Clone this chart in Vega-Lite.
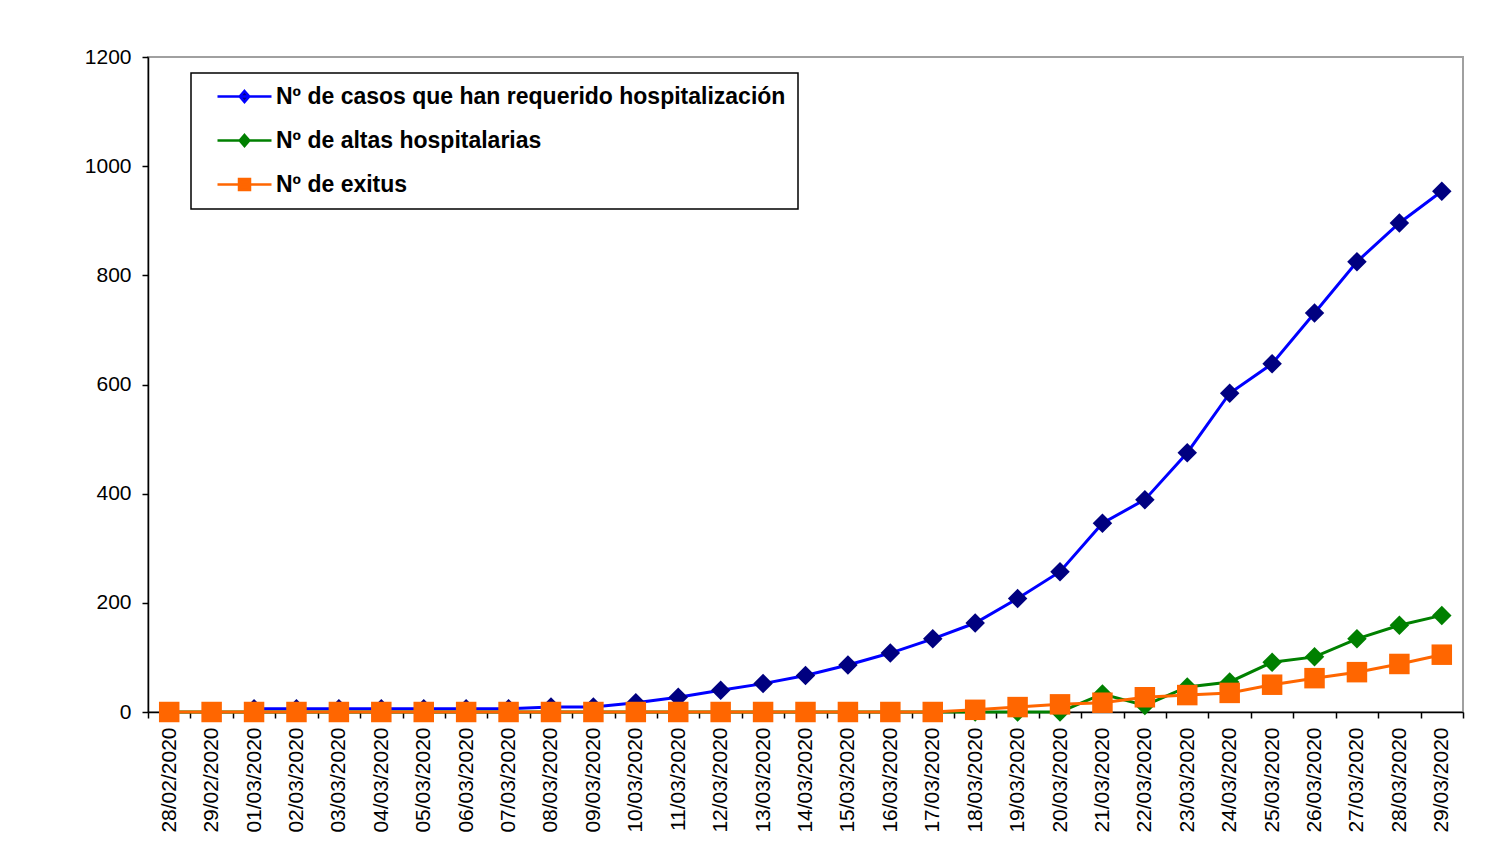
{
  "$schema": "https://vega.github.io/schema/vega-lite/v6.json",
  "width": 1315,
  "height": 655,
  "padding": {"left": 12, "top": 46, "right": 42, "bottom": 5},
  "background": "white",
  "config": {
    "view": {"stroke": "#a0a0a0", "strokeWidth": 2},
    "font": "Liberation Sans"
  },
  "data": {
    "values": [
      {"fecha": "28/02/2020", "hosp": null, "altas": 0, "exitus": 0},
      {"fecha": "29/02/2020", "hosp": null, "altas": 0, "exitus": 0},
      {"fecha": "01/03/2020", "hosp": 6, "altas": 0, "exitus": 0},
      {"fecha": "02/03/2020", "hosp": 6, "altas": 0, "exitus": 0},
      {"fecha": "03/03/2020", "hosp": 6, "altas": 0, "exitus": 0},
      {"fecha": "04/03/2020", "hosp": 6, "altas": 0, "exitus": 0},
      {"fecha": "05/03/2020", "hosp": 6, "altas": 0, "exitus": 0},
      {"fecha": "06/03/2020", "hosp": 6, "altas": 0, "exitus": 0},
      {"fecha": "07/03/2020", "hosp": 6, "altas": 0, "exitus": 0},
      {"fecha": "08/03/2020", "hosp": 9, "altas": 0, "exitus": 0},
      {"fecha": "09/03/2020", "hosp": 9, "altas": 0, "exitus": 0},
      {"fecha": "10/03/2020", "hosp": 17, "altas": 0, "exitus": 0},
      {"fecha": "11/03/2020", "hosp": 27, "altas": 0, "exitus": 0},
      {"fecha": "12/03/2020", "hosp": 40, "altas": 0, "exitus": 0},
      {"fecha": "13/03/2020", "hosp": 52, "altas": 0, "exitus": 0},
      {"fecha": "14/03/2020", "hosp": 67, "altas": 0, "exitus": 0},
      {"fecha": "15/03/2020", "hosp": 86, "altas": 0, "exitus": 0},
      {"fecha": "16/03/2020", "hosp": 108, "altas": 0, "exitus": 0},
      {"fecha": "17/03/2020", "hosp": 134, "altas": 0, "exitus": 0},
      {"fecha": "18/03/2020", "hosp": 163, "altas": 0, "exitus": 4},
      {"fecha": "19/03/2020", "hosp": 208, "altas": 0, "exitus": 9},
      {"fecha": "20/03/2020", "hosp": 257, "altas": 0, "exitus": 14},
      {"fecha": "21/03/2020", "hosp": 346, "altas": 33, "exitus": 17},
      {"fecha": "22/03/2020", "hosp": 389, "altas": 12, "exitus": 27},
      {"fecha": "23/03/2020", "hosp": 475, "altas": 46, "exitus": 31},
      {"fecha": "24/03/2020", "hosp": 584, "altas": 55, "exitus": 35},
      {"fecha": "25/03/2020", "hosp": 638, "altas": 91, "exitus": 50},
      {"fecha": "26/03/2020", "hosp": 731, "altas": 101, "exitus": 62},
      {"fecha": "27/03/2020", "hosp": 825, "altas": 134, "exitus": 73},
      {"fecha": "28/03/2020", "hosp": 896, "altas": 159, "exitus": 88},
      {"fecha": "29/03/2020", "hosp": 954, "altas": 177, "exitus": 105}
    ]
  },
  "encoding": {
    "x": {
      "field": "fecha",
      "type": "ordinal",
      "sort": null,
      "scale": {"type": "band", "paddingInner": 0, "paddingOuter": 0},
      "axis": {
        "title": null,
        "labelAngle": -90,
        "labelFontSize": 21,
        "labelColor": "#000",
        "labelPadding": 9,
        "tickBand": "extent",
        "tickSize": 6,
        "tickColor": "#000",
        "tickWidth": 1.5,
        "domainColor": "#000",
        "domainWidth": 1.5
      }
    }
  },
  "layer": [
    {
      "mark": {"type": "line", "strokeWidth": 3},
      "encoding": {
        "y": {
          "field": "hosp",
          "type": "quantitative",
          "scale": {"domain": [0, 1200], "nice": false},
          "axis": {
            "title": null,
            "values": [0, 200, 400, 600, 800, 1000, 1200],
            "format": "d",
            "grid": false,
            "labelFontSize": 21,
            "labelColor": "#000",
            "labelPadding": 11,
            "tickSize": 6,
            "tickColor": "#000",
            "tickWidth": 1.5,
            "domainColor": "#000",
            "domainWidth": 1.5,
            "minExtent": 136,
            "maxExtent": 136
          }
        },
        "color": {
          "datum": "Nº de casos que han requerido hospitalización",
          "type": "nominal",
          "scale": {
            "domain": ["Nº de casos que han requerido hospitalización", "Nº de altas hospitalarias", "Nº de exitus"],
            "range": ["#0000FF", "#008000", "#FF6600"]
          },
          "legend": {
            "title": null,
            "orient": "none",
            "legendX": 43,
            "legendY": 16,
            "fillColor": "white",
            "strokeColor": "#000",
            "padding": 12,
            "labelFontSize": 23,
            "labelFont": "Liberation Sans",
            "labelFontWeight": "bold",
            "labelColor": "#000",
            "labelLimit": 0,
            "rowPadding": 20,
            "symbolSize": 400,
            "symbolStrokeWidth": 2.5,
            "symbolOffset": 30,
            "labelOffset": 20,
            "symbolType": "M-2.7,0H2.7",
            "encode": {
              "legend": {"update": {"strokeWidth": {"value": 1.5}}},
              "symbols": {
                "update": {
                  "shape": [
                    {"test": "datum.value === 'Nº de exitus'", "value": "M-2.7,0H2.7M-0.55,-0.55H0.55V0.55H-0.55Z"},
                    {"value": "M-2.7,0H2.7M0,-0.55L0.48,0L0,0.55L-0.48,0Z"}
                  ],
                  "fill": [
                    {"test": "datum.value === 'Nº de casos que han requerido hospitalización'", "value": "#000080"},
                    {"test": "datum.value === 'Nº de altas hospitalarias'", "value": "#008000"},
                    {"value": "#FF6600"}
                  ],
                  "fillOpacity": {"value": 1},
                  "opacity": {"value": 1}
                }
              }
            }
          }
        }
      }
    },
    {
      "mark": {"type": "point", "shape": "diamond", "filled": true, "size": 380, "color": "#000080", "opacity": 1},
      "encoding": {"y": {"field": "hosp", "type": "quantitative"}}
    },
    {
      "mark": {"type": "line", "strokeWidth": 3},
      "encoding": {
        "y": {"field": "altas", "type": "quantitative"},
        "color": {"datum": "Nº de altas hospitalarias", "type": "nominal"}
      }
    },
    {
      "mark": {"type": "point", "shape": "diamond", "filled": true, "size": 380, "color": "#008000", "opacity": 1},
      "encoding": {"y": {"field": "altas", "type": "quantitative"}}
    },
    {
      "mark": {"type": "line", "strokeWidth": 3},
      "encoding": {
        "y": {"field": "exitus", "type": "quantitative"},
        "color": {"datum": "Nº de exitus", "type": "nominal"}
      }
    },
    {
      "mark": {"type": "point", "shape": "square", "filled": true, "size": 420, "color": "#FF6600", "opacity": 1},
      "encoding": {"y": {"field": "exitus", "type": "quantitative"}}
    }
  ]
}
